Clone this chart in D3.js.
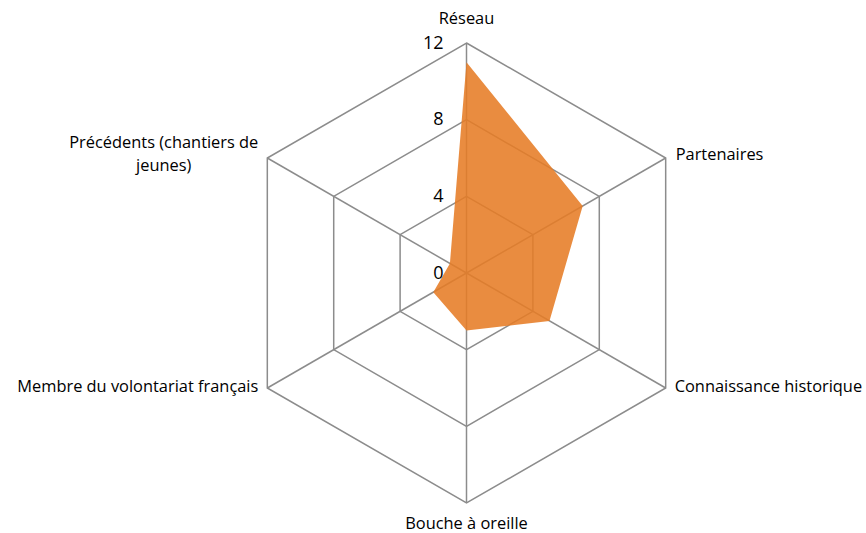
<!DOCTYPE html>
<html>
<head>
<meta charset="utf-8">
<script src="https://cdn.jsdelivr.net/npm/d3@7"></script>
<style>
  body { margin: 0; background: #fff; }
  text { font-family: "Open Sans", "Noto Sans", sans-serif; fill: #000; }
</style>
</head>
<body>
<svg id="radar"></svg>
<script>
// Données du graphique radar
const categories = ["Réseau", "Partenaires", "Connaissance historique", "Bouche à oreille", "Membre du volontariat français", "Précédents (chantiers de jeunes)"];
const values = [11, 7, 5, 3, 2, 1];
const ticks = [0, 4, 8, 12];

const width = 866, height = 533;
const cx = 466.5, cy = 273, radius = 230;

const svg = d3.select("#radar")
    .attr("width", width)
    .attr("height", height);

const r = d3.scaleLinear().domain([0, 12]).range([0, radius]);
const angle = d3.scalePoint().domain(categories.concat("_end")).range([0, 2 * Math.PI]);

const pt = (cat, v) => {
    const a = angle(cat);
    return [cx + r(v) * Math.sin(a), cy - r(v) * Math.cos(a)];
};

// Grille hexagonale
const grid = svg.append("g");
ticks.filter(t => t > 0).forEach(t => {
    grid.append("polygon")
        .attr("points", categories.map(c => pt(c, t).join(",")).join(" "))
        .attr("fill", "none")
        .attr("stroke", "#8c8c8c")
        .attr("stroke-width", 1.5);
});
categories.forEach(c => {
    const [x, y] = pt(c, 12);
    grid.append("line")
        .attr("x1", cx).attr("y1", cy)
        .attr("x2", x).attr("y2", y)
        .attr("stroke", "#8c8c8c")
        .attr("stroke-width", 1.5);
});

// Série
svg.append("polygon")
    .attr("points", categories.map((c, i) => pt(c, values[i]).join(",")).join(" "))
    .attr("fill", "#e67c26")
    .attr("fill-opacity", 0.88);

// Étiquettes de l'échelle
svg.selectAll(".tick")
    .data(ticks)
    .enter().append("text")
    .attr("class", "tick")
    .attr("x", cx - 23)
    .attr("y", d => cy - r(d) + 1)
    .attr("text-anchor", "end")
    .attr("dominant-baseline", "middle")
    .style("font-size", "18px")
    .text(d => d);

// Étiquettes des catégories
const fs = "16.4px";
const labelPos = [
    { dx: 0, dy: -23, anchor: "middle" },
    { dx: 10, dy: -2, anchor: "start" },
    { dx: 9, dy: 0, anchor: "start" },
    { dx: 0, dy: 22, anchor: "middle" },
    { dx: -9, dy: 0, anchor: "end" },
    { dx: -9, dy: 0, anchor: "end" }
];
categories.forEach((c, i) => {
    const [x, y] = pt(c, 12);
    const p = labelPos[i];
    if (i === 5) {
        const lines = ["Précédents (chantiers de", "jeunes)"];
        const t = svg.append("text")
            .attr("text-anchor", "middle")
            .style("font-size", fs);
        const spans = lines.map((l, k) => t.append("tspan")
            .attr("y", y - 14 + k * 23)
            .attr("dominant-baseline", "middle")
            .text(l));
        const w = spans[0].node().getComputedTextLength();
        spans.forEach(s => s.attr("x", x + p.dx - w / 2));
    } else {
        svg.append("text")
            .attr("x", x + p.dx)
            .attr("y", y + p.dy)
            .attr("text-anchor", p.anchor)
            .attr("dominant-baseline", "middle")
            .style("font-size", fs)
            .text(c);
    }
});
</script>
</body>
</html>
